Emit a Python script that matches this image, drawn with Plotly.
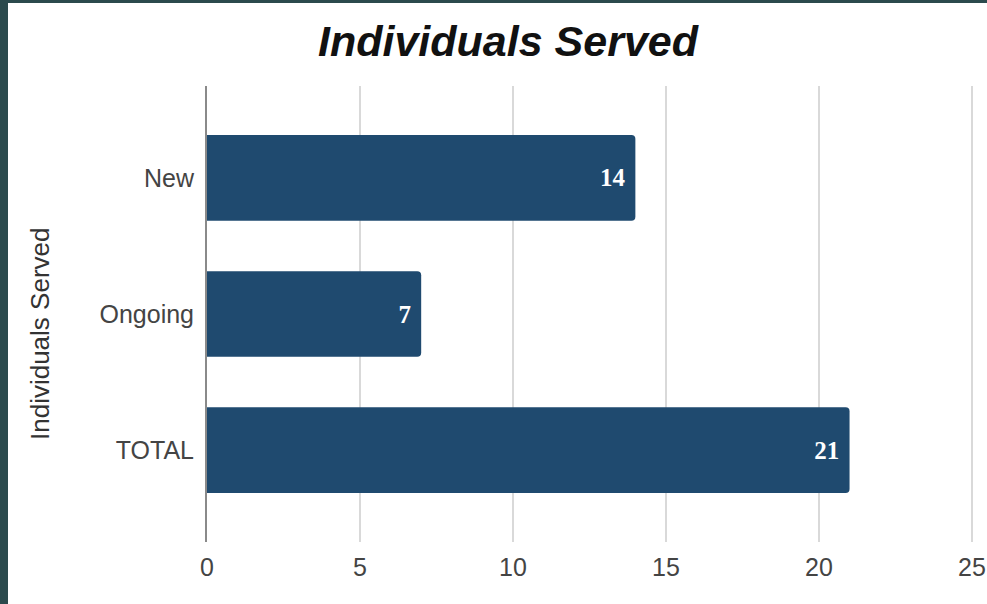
import plotly.graph_objects as go

# Data
categories = ["New", "Ongoing", "TOTAL"]
values = [14, 7, 21]
x_ticks = [0, 5, 10, 15, 20, 25]

W, H = 987, 604
L, R, T, B = 207, 12, 86, 62
pw, ph = W - L - R, H - T - B


def px_x(px):
    return (px - L) / pw


def px_y(py):
    return (H - B - py) / ph


bar_color = "#1f4a6f"
frame_color = "#2b4a4d"

fig = go.Figure(
    go.Bar(
        y=categories,
        x=values,
        orientation="h",
        width=0.63,
        marker=dict(color=bar_color, cornerradius=4, line=dict(width=0)),
        # trailing no-break space keeps the value label off the bar end
        text=[f"{v}\u00a0" for v in values],
        textposition="inside",
        insidetextanchor="end",
        textfont=dict(family="Liberation Serif", size=25, color="white", weight="bold"),
        cliponaxis=False,
    )
)

fig.update_layout(
    width=W,
    height=H,
    margin=dict(l=L, r=R, t=T, b=B, pad=0, autoexpand=False),
    paper_bgcolor="white",
    plot_bgcolor="white",
    showlegend=False,
    title=dict(
        text="<b><i>Individuals Served</i></b>",
        x=508 / W,
        xanchor="center",
        xref="container",
        y=1 - 41 / H,
        yanchor="middle",
        yref="container",
        font=dict(family="Liberation Sans", size=43, color="#111111"),
    ),
    xaxis=dict(
        range=[0, 25.1],
        tickvals=x_ticks,
        ticktext=[str(v) for v in x_ticks],
        showgrid=True,
        gridcolor="#d9d9d9",
        gridwidth=2,
        zeroline=False,
        showline=False,
        ticks="",
        automargin=False,
        ticklabelstandoff=8,
        tickfont=dict(family="Liberation Sans", size=25, color="#444444"),
    ),
    yaxis=dict(
        range=[2.676, -0.676],
        showgrid=False,
        zeroline=False,
        showline=True,
        linecolor="#8a8a8a",
        linewidth=2,
        ticks="",
        automargin=False,
        ticklabelstandoff=6,
        tickfont=dict(family="Liberation Sans", size=25, color="#444444"),
    ),
    annotations=[
        dict(
            text="Individuals Served",
            xref="paper",
            yref="paper",
            x=px_x(40),
            y=px_y(334),
            xanchor="center",
            yanchor="middle",
            textangle=-90,
            showarrow=False,
            font=dict(family="Liberation Sans", size=26, color="#333333"),
        )
    ],
    shapes=[
        # dark frame strips along the left and top edges
        dict(type="rect", xref="paper", yref="paper",
             x0=px_x(0), x1=px_x(8), y0=px_y(H), y1=px_y(0),
             fillcolor=frame_color, line=dict(width=0), layer="above"),
        dict(type="rect", xref="paper", yref="paper",
             x0=px_x(0), x1=px_x(W), y0=px_y(3), y1=px_y(0),
             fillcolor=frame_color, line=dict(width=0), layer="above"),
    ],
)

fig.write_html("out.html")
